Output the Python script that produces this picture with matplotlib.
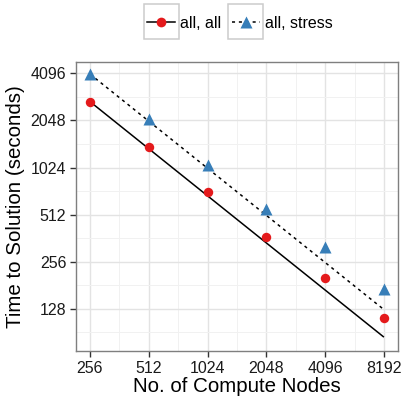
import numpy as np
import matplotlib
matplotlib.use("Agg")
import matplotlib.pyplot as plt
from matplotlib.legend_handler import HandlerLine2D
from matplotlib.patches import Rectangle
from matplotlib.lines import Line2D
from matplotlib.ticker import FixedLocator, FixedFormatter, NullFormatter

plt.rcParams['font.family'] = ['Liberation Sans', 'DejaVu Sans']

nodes = [256, 512, 1024, 2048, 4096, 8192]
all_all = [2700, 1385, 714, 370, 200, 112]
all_stress = [4050, 2080, 1060, 553, 319, 171]
x_ticks = [256, 512, 1024, 2048, 4096, 8192]
y_ticks = [128, 256, 512, 1024, 2048, 4096]

red = '#E41A1C'
blue = '#377EB8'

fig = plt.figure(figsize=(4.05, 3.98), dpi=100)
ax = fig.add_axes([76/405, 1-351/398, (398-76)/405, (351-62)/398])

nodes_arr = np.array(nodes, dtype=float)
ideal_all = all_all[0] * nodes_arr[0] / nodes_arr
ideal_stress = all_stress[0] * nodes_arr[0] / nodes_arr

ax.plot(nodes_arr, ideal_all, color='black', lw=1.1, solid_capstyle='butt', zorder=3)
ax.plot(nodes_arr, ideal_stress, color='black', lw=1.1, ls=(0, (2, 2.5)), zorder=3)
ax.plot(nodes, all_all, 'o', color=red, ms=6.8, mec='none', zorder=4)
ax.plot(nodes, all_stress, '^', color=blue, ms=8, mec='none', zorder=4)

ax.set_xscale('log', base=2)
ax.set_yscale('log', base=2)
ax.set_xlim(2**7.762, 2**13.24)
ax.set_ylim(2**6.104, 2**12.24)

ax.xaxis.set_major_locator(FixedLocator(x_ticks))
ax.xaxis.set_major_formatter(FixedFormatter([str(v) for v in x_ticks]))
ax.yaxis.set_major_locator(FixedLocator(y_ticks))
ax.yaxis.set_major_formatter(FixedFormatter([str(v) for v in y_ticks]))
xminor = [np.sqrt(a*b) for a, b in zip(x_ticks[:-1], x_ticks[1:])] + [2**7.5, 2**13.5]
yminor = [np.sqrt(a*b) for a, b in zip(y_ticks[:-1], y_ticks[1:])] + [2**6.5, 2**12.5]
ax.xaxis.set_minor_locator(FixedLocator(xminor))
ax.yaxis.set_minor_locator(FixedLocator(yminor))
ax.xaxis.set_minor_formatter(NullFormatter())
ax.yaxis.set_minor_formatter(NullFormatter())

ax.grid(True, which='major', color='#E3E3E3', lw=1.0, zorder=0)
ax.grid(True, which='minor', color='#F1F1F1', lw=0.7, zorder=0)
ax.set_axisbelow(True)
ax.tick_params(which='minor', length=0)
ax.tick_params(which='major', length=4, width=1, color='#333333', labelsize=11.5, pad=3, labelcolor='#1a1a1a')
for s in ax.spines.values():
    s.set_color('#7F7F7F')
    s.set_linewidth(1)

ax.set_xlabel('No. of Compute Nodes', fontsize=14.8, labelpad=1)
ax.set_ylabel('Time to Solution (seconds)', fontsize=14.8, labelpad=4)

BOX_PAD = 2.5  # points of padding of key box beyond the key line


class BoxedHandler(HandlerLine2D):
    def create_artists(self, legend, orig_handle, xdescent, ydescent, width, height, fontsize, trans):
        arts = super().create_artists(legend, orig_handle, xdescent, ydescent, width, height, fontsize, trans)
        side = width + 2 * BOX_PAD
        yc = (height - ydescent) / 2
        rect = Rectangle((-xdescent - BOX_PAD, yc - side / 2), side, side, facecolor='white',
                         edgecolor='#CCCCCC', lw=1.1, transform=trans)
        return [rect] + list(arts)


h1 = Line2D([], [], color='black', lw=1.1, marker='o', mfc=red, mec='none', ms=7)
h2 = Line2D([], [], color='black', lw=1.1, ls=(0, (2, 2.5)), marker='^', mfc=blue, mec='none', ms=8)
fig.legend([h1, h2], ['all, all', 'all, stress'], loc='center', bbox_to_anchor=(240/405, 1-23/398),
           ncol=2, frameon=False, fontsize=11.5, handlelength=1.75, handleheight=0.7,
           handletextpad=0.32, columnspacing=0.66, borderpad=0,
           handler_map={Line2D: BoxedHandler(numpoints=1)})

fig.savefig('out.png', dpi=100)
